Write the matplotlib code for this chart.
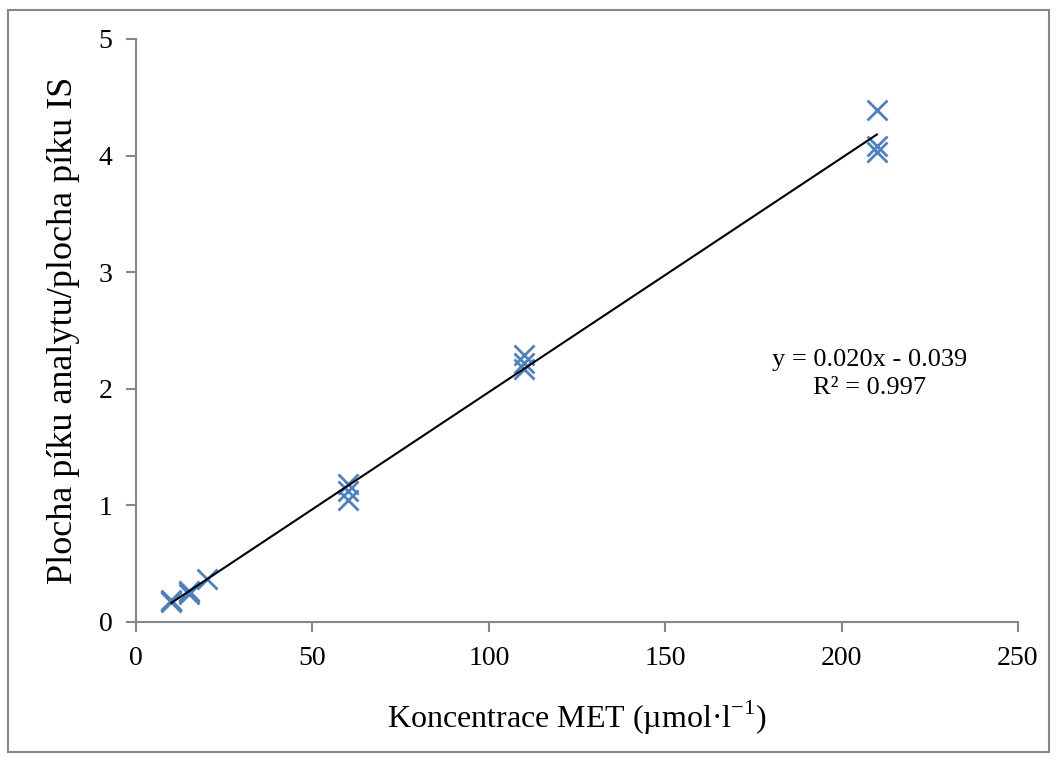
import matplotlib
matplotlib.use('agg')
import matplotlib.pyplot as plt
import numpy as np
from matplotlib.patches import Rectangle

# koncentrace MET a pomer ploch piku
conc = [10, 10, 10, 15, 15, 15, 20, 60, 60, 60, 110, 110, 110, 210, 210, 210]
ratio = [0.19, 0.18, 0.17, 0.26, 0.24, 0.27, 0.37, 1.18, 1.05, 1.12, 2.29, 2.22, 2.17, 4.39, 4.08, 4.03]
x_ticks = [0, 50, 100, 150, 200, 250]
y_ticks = [0, 1, 2, 3, 4, 5]

plt.rcParams['font.family'] = ['Liberation Serif', 'DejaVu Serif']

fig = plt.figure(figsize=(10.57, 7.6), dpi=100)
ax = fig.add_axes([0.1287, 0.1816, 0.8344, 0.7671])

fig.patches.append(Rectangle((8 / 1057, 8 / 760), 1041 / 1057, 742 / 760, transform=fig.transFigure,
                             fill=False, edgecolor='#868686', linewidth=1.5))

ax.plot(conc, ratio, linestyle='none', marker='x', markersize=14, markeredgewidth=2, color='#4F81BD')

k, q = np.polyfit(conc, ratio, 1)
xs = np.array([min(conc), max(conc)])
ax.plot(xs, k * xs + q, color='black', linewidth=1.5)

fig.text(0.823, 0.526, 'y = 0.020x - 0.039', ha='center', va='center', fontsize=19)
fig.text(0.823, 0.489, 'R² = 0.997', ha='center', va='center', fontsize=19)

ax.set_xlim(0, 250)
ax.set_ylim(0, 5)
ax.set_xticks(x_ticks)
ax.set_yticks(y_ticks)
ax.tick_params(direction='out', length=7, width=1.5, color='#868686', labelsize=20, pad=10)

for s in ['top', 'right']:
    ax.spines[s].set_visible(False)
for s in ['left', 'bottom']:
    ax.spines[s].set_color('#868686')
    ax.spines[s].set_linewidth(1.5)

ax.set_xlabel('Koncentrace MET (µmol·l$^{\\mathregular{-1}}$)', fontsize=23, labelpad=20)
ax.set_ylabel('Plocha píku analytu/plocha píku IS', fontsize=26, labelpad=13)

plt.savefig('out.png', dpi=100)
